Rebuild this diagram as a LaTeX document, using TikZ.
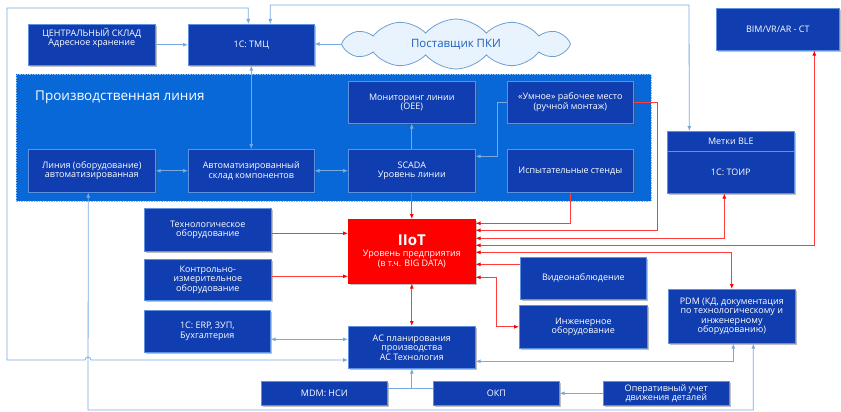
\documentclass[tikz,border=0pt]{standalone}
\usepackage{fontspec}
\setmainfont{Open Sans}
\usetikzlibrary{shapes.symbols,shadows,arrows.meta}
\definecolor{boxblue}{RGB}{16,62,176}
\definecolor{boxedge}{RGB}{95,145,225}
\definecolor{linebg}{RGB}{8,104,216}
\definecolor{conn}{RGB}{120,170,225}
\definecolor{redln}{RGB}{255,60,60}
\definecolor{cloudfill}{RGB}{232,243,253}
\definecolor{cloudedge}{RGB}{110,160,210}
\definecolor{cloudtext}{RGB}{30,95,190}
\begin{document}
\begin{tikzpicture}[x=1pt,y=-1pt,
  box/.style={draw=boxedge, line width=0.6pt, fill=boxblue, text=white, align=center,
    inner sep=1pt, anchor=north west, font=\fontsize{9}{9.5}\selectfont,
    drop shadow={shadow xshift=2pt, shadow yshift=-2pt, opacity=0.35, fill=black!70}},
  txt/.style={text=white, align=center, inner sep=1pt, font=\fontsize{9}{9.5}\selectfont},
  redbox/.style={box, fill=red, draw=red},
  region/.style={fill=linebg, draw=white!55!linebg, line width=0.6pt, dash pattern=on 1.5pt off 1pt, anchor=north west},
  bl/.style={draw=conn, line width=0.8pt},
  bla/.style={bl, -{Latex[length=5pt,width=4pt]}},
  blaa/.style={bl, {Latex[length=5pt,width=4pt]}-{Latex[length=5pt,width=4pt]}},
  rd/.style={draw=redln, line width=0.8pt},
  rda/.style={rd, -{Latex[length=5pt,width=4pt,color=red]}},
  rdaa/.style={rd, {Latex[length=5pt,width=4pt,color=red]}-{Latex[length=5pt,width=4pt,color=red]}}
]
\useasboundingbox (0,0) rectangle (841,412);
\fill[white] (0,0) rectangle (841,412);

% region
\node[region, minimum width=635, minimum height=127] (pl) at (16,74) {};
\node[anchor=west, text=white, inner sep=0pt, font=\fontsize{13.5}{13.5}\selectfont] (plt) at (35,97) {Производственная линия};

% top row
\node[box, minimum width=127, minimum height=41] (csk) at (28,24) {};
\node[txt, anchor=north] (csktxt) at ([yshift=-3pt]csk.north) {ЦЕНТРАЛЬНЫЙ СКЛАД\\Адресное хранение};
\node[box, minimum width=126, minimum height=41] (tmc) at (188,24) {1С: ТМЦ};
\node[cloud, cloud puffs=12, cloud puff arc=100, aspect=4.4, minimum width=229, minimum height=50,
  draw=cloudedge, fill=cloudfill, line width=0.8pt, text=cloudtext, font=\fontsize{11.5}{11.5}\selectfont] (cloud) at (456,44) {Поставщик ПКИ};
\node[box, minimum width=123, minimum height=42] (bim) at (716,8) {BIM/VR/AR - CT};

% production line
\node[box, minimum width=127, minimum height=42] (mon) at (348,81) {Мониторинг линии\\(OEE)};
\node[box, minimum width=126, minimum height=42] (umn) at (507,81) {«Умное» рабочее место\\(ручной монтаж)};
\node[box, minimum width=127, minimum height=43] (lin) at (28,149) {Линия (оборудование)\\автоматизированная};
\node[box, minimum width=126, minimum height=43] (skl) at (188,149) {Автоматизированный\\склад компонентов};
\node[box, minimum width=127, minimum height=43] (scada) at (348,149) {SCADA\\Уровень линии};
\node[box, minimum width=126, minimum height=43] (isp) at (507,149) {Испытательные стенды};

% BLE / TOIR
\node[box, minimum width=127, minimum height=62] (toir) at (667,131) {};
\draw[boxedge, line width=0.6pt] ([yshift=-20pt]toir.north west) -- ([yshift=-20pt]toir.north east);
\node[txt] (ble) at ([yshift=-10pt]toir.north) {Метки BLE};
\node[txt] (toirt) at ([yshift=21pt]toir.south) {1С: ТОИР};

% middle
\node[box, minimum width=127, minimum height=43] (tech) at (144,208) {Технологическое\\оборудование};
\node[redbox, minimum width=127, minimum height=64] (iiot) at (348,219) {{\fontsize{15}{15}\selectfont\bfseries IIoT}\\[2pt]Уровень предприятия\\(в т.ч. BIG DATA)};
\node[box, minimum width=127, minimum height=41] (kip) at (144,259) {Контрольно-\\измерительное\\оборудование};
\node[box, minimum width=126, minimum height=42] (vid) at (520,257) {Видеонаблюдение};
\node[box, minimum width=127, minimum height=54] (pdm) at (668,289) {PDM (КД, документация\\по технологическому и\\инженерному\\оборудованию)};
\node[box, minimum width=126, minimum height=42] (erp) at (144,310) {1С: ERP, ЗУП,\\Бухгалтерия};
\node[box, minimum width=127, minimum height=42] (ac) at (348,326) {АС планирования\\производства\\АС Технология};
\node[box, minimum width=128, minimum height=43] (ing) at (519,305) {Инженерное\\оборудование};
\node[box, minimum width=126, minimum height=24] (mdm) at (261,381) {MDM: НСИ};
\node[box, minimum width=126, minimum height=24] (okp) at (433,381) {ОКП};
\node[box, minimum width=126, minimum height=24] (oper) at (603,381) {Оперативный учет\\движения деталей};

% blue connectors
\draw[bla] (csk.east) -- (csk.east -| tmc.west);
\draw[bla] (cloud.west) -- (cloud.west -| tmc.east);
\draw[blaa] (tmc.south) -- (skl.north);
\draw[blaa] (lin.east) -- (skl.west);
\draw[blaa] (skl.east) -- (scada.west);
\draw[bla] (scada.north) -- (mon.south);
\draw[bla] (umn.west) -- ++(-10,0) |- ([yshift=14.5pt]scada.east);

\coordinate (lt) at (7,8);
\coordinate (lb) at (7,360);
\coordinate (hopa) at (85,360);
\draw[blaa] ([xshift=-3pt]tmc.north) |- (lt) -- (lb) -- (hopa) arc[start angle=180,end angle=0,radius=3pt] -- (lb -| ac.west);
\coordinate (rt) at (689,5);
\draw[blaa] ([xshift=19pt]tmc.north) |- (rt) -- ([xshift=-41.5pt]toir.north);
\coordinate (bot) at (88,410);
\draw[blaa] ([xshift=21.5pt]pdm.south) |- (bot) -- ([xshift=-3.5pt]lin.south);
\draw[blaa] ([yshift=-8pt]erp.east) coordinate (e1) -- (e1 -| ac.west);
\draw[blaa] ([xshift=1.5pt]pdm.south) |- ([yshift=-14pt]ac.east);
\draw[bl] ([yshift=5pt]mdm.east) coordinate (m1) -- (m1 -| okp.west);
\draw[bla] (m1 -| ac.south) -- (ac.south);
\draw[bla] (oper.west) -- (oper.west -| okp.east);

% red connectors
\draw[rda] (scada.south) -- (iiot.north);
\draw[rdaa] (iiot.south) -- (ac.north);
\draw[rda] ([yshift=-3.5pt]tech.east) coordinate (t1) -- (t1 -| iiot.west);
\draw[rda] ([yshift=3.5pt]kip.east) coordinate (k1) -- (k1 -| iiot.west);
\draw[rda] (isp.south) |- ([yshift=28pt]iiot.east);
\draw[rda] (umn.east) -- ++(24,0) |- ([yshift=21pt]iiot.east);
\draw[rdaa] ([yshift=13pt]iiot.east) -| ([xshift=-6.5pt]toir.south);
\draw[rdaa] ([yshift=6pt]iiot.east) -| ([xshift=36.5pt]bim.south);
\draw[rdaa] ([yshift=-1pt]iiot.east) -| (pdm.north);
\draw[rda] ([yshift=14pt]vid.west) coordinate (v1) -- (v1 -| iiot.east);
\draw[rdaa] ([yshift=-26pt]iiot.east) -- ++(21,0) |- (ing.west);
\end{tikzpicture}
\end{document}
